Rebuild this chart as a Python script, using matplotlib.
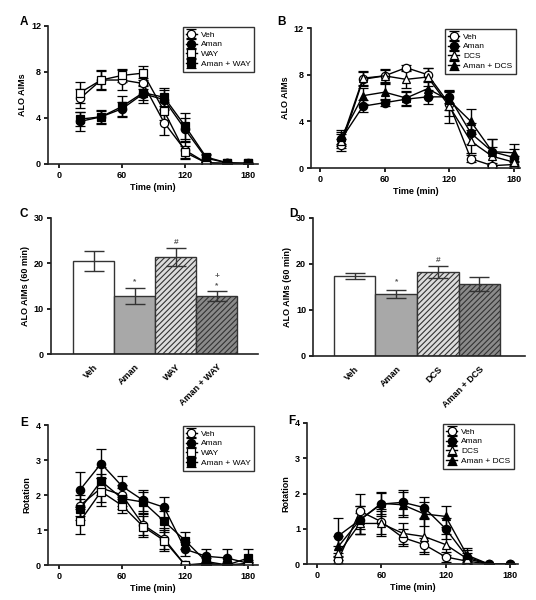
import numpy as np
import matplotlib
matplotlib.use('Agg')
import matplotlib.pyplot as plt

plt.rcParams['font.family'] = ['Liberation Sans', 'DejaVu Sans']
plt.rcParams['font.weight'] = 'bold'
plt.rcParams['hatch.linewidth'] = 0.8

# time course data
t = [20, 40, 60, 80, 100, 120, 140, 160, 180]

# panel A  (ALO AIMs, WAY study)
a_veh = [5.7, 7.3, 7.3, 7.0, 3.6, 1.2, 0.1, 0.05, 0.0]
a_veh_err = [0.8, 0.8, 0.9, 0.5, 1.1, 0.7, 0.1, 0.05, 0.05]
a_aman = [3.7, 4.1, 4.8, 6.1, 5.6, 3.0, 0.5, 0.1, 0.05]
a_aman_err = [0.8, 0.6, 0.6, 0.8, 0.8, 1.0, 0.3, 0.1, 0.05]
a_way = [6.2, 7.3, 7.7, 7.9, 4.6, 1.0, 0.1, 0.05, 0.05]
a_way_err = [0.9, 0.9, 0.6, 0.6, 0.8, 0.6, 0.1, 0.05, 0.05]
a_amanway = [3.9, 4.1, 5.0, 6.2, 5.8, 3.3, 0.6, 0.1, 0.05]
a_amanway_err = [0.6, 0.5, 0.9, 0.6, 0.8, 1.1, 0.3, 0.1, 0.05]

# panel B  (ALO AIMs, DCS study)
b_veh = [2.0, 7.6, 7.9, 8.6, 8.0, 5.5, 0.8, 0.2, 0.3]
b_veh_err = [0.5, 0.6, 0.5, 0.2, 0.6, 1.0, 0.3, 0.2, 0.3]
b_aman = [2.5, 5.3, 5.6, 5.9, 6.1, 6.1, 3.0, 1.4, 0.9]
b_aman_err = [0.6, 0.5, 0.3, 0.6, 0.6, 0.5, 0.9, 1.1, 0.7]
b_dcs = [2.3, 7.7, 7.9, 7.6, 7.8, 5.3, 2.3, 1.0, 0.5]
b_dcs_err = [0.6, 0.6, 0.6, 0.7, 0.8, 1.4, 1.0, 0.8, 0.5]
b_amandcs = [2.7, 6.2, 6.5, 6.0, 6.8, 5.8, 4.0, 1.4, 1.3]
b_amandcs_err = [0.6, 0.7, 0.7, 0.6, 0.7, 0.8, 1.1, 1.1, 0.8]

# panel C  (ALO AIMs at 60 min, WAY study)
c_groups = ['Veh', 'Aman', 'WAY', 'Aman + WAY']
c_vals = [20.5, 12.8, 21.4, 12.8]
c_err = [2.2, 1.8, 1.9, 1.1]

# panel D  (ALO AIMs at 60 min, DCS study)
d_groups = ['Veh', 'Aman', 'DCS', 'Aman + DCS']
d_vals = [17.4, 13.5, 18.2, 15.6]
d_err = [0.7, 0.8, 1.3, 1.5]

# panel E  (rotation, WAY study)
e_veh = [1.7, 2.2, 2.0, 1.15, 0.75, 0.0, 0.05, 0.0, 0.05]
e_veh_err = [0.3, 0.4, 0.3, 0.3, 0.3, 0.05, 0.05, 0.05, 0.05]
e_aman = [2.15, 2.9, 2.25, 1.85, 1.65, 0.45, 0.25, 0.2, 0.05]
e_aman_err = [0.5, 0.42, 0.3, 0.3, 0.3, 0.2, 0.2, 0.25, 0.1]
e_way = [1.25, 2.1, 1.7, 1.1, 0.7, 0.0, 0.0, 0.0, 0.0]
e_way_err = [0.35, 0.4, 0.2, 0.3, 0.3, 0.0, 0.0, 0.0, 0.0]
e_amanway = [1.6, 2.4, 1.9, 1.8, 1.25, 0.7, 0.1, 0.0, 0.2]
e_amanway_err = [0.3, 0.4, 0.3, 0.3, 0.3, 0.25, 0.1, 0.05, 0.25]

# panel F  (rotation, DCS study)
f_veh = [0.12, 1.5, 1.2, 0.75, 0.55, 0.2, 0.08, 0.0, 0.0]
f_veh_err = [0.1, 0.5, 0.35, 0.25, 0.2, 0.15, 0.05, 0.0, 0.0]
f_aman = [0.8, 1.25, 1.7, 1.75, 1.6, 1.0, 0.2, 0.0, 0.0]
f_aman_err = [0.5, 0.4, 0.35, 0.35, 0.3, 0.3, 0.2, 0.0, 0.0]
f_dcs = [0.3, 1.15, 1.15, 0.87, 0.78, 0.55, 0.15, 0.0, 0.0]
f_dcs_err = [0.2, 0.3, 0.35, 0.3, 0.5, 0.3, 0.15, 0.0, 0.0]
f_amandcs = [0.5, 1.25, 1.72, 1.68, 1.42, 1.35, 0.25, 0.0, 0.0]
f_amandcs_err = [0.3, 0.4, 0.3, 0.35, 0.35, 0.3, 0.2, 0.0, 0.0]

fig = plt.figure(figsize=(5.36, 6.0), dpi=100)

FS = 6.5


def style_ax(ax):
    for s in ['top', 'right']:
        ax.spines[s].set_visible(False)
    for s in ['left', 'bottom']:
        ax.spines[s].set_linewidth(1.2)
        ax.spines[s].set_color('#222222')
    ax.tick_params(direction='out', width=1.2, length=3, labelsize=FS, pad=2)
    for lab in ax.get_xticklabels() + ax.get_yticklabels():
        lab.set_fontweight('bold')


def time_panel(ax, series, labels, markers, fills, ymax, yticks, ylabel, xlim):
    for y, e, lab, m, f in zip(*series, labels, markers, fills):
        ax.errorbar(t, y, yerr=e, color='black', lw=1.0, marker=m, ms=6,
                    mfc='black' if f else 'white', mec='black', mew=0.9,
                    capsize=3.5, elinewidth=1.0, capthick=1.0, label=lab)
    ax.set_xlim(*xlim)
    ax.set_ylim(0, ymax)
    ax.set_xticks([0, 60, 120, 180])
    ax.set_yticks(yticks)
    ax.set_ylabel(ylabel, fontsize=FS, fontweight='bold', labelpad=3)
    ax.set_xlabel('Time (min)', fontsize=FS, fontweight='bold', labelpad=2)
    leg = ax.legend(loc='upper right', fontsize=FS - 0.5, frameon=True, fancybox=False,
                    edgecolor='black', handlelength=1.3, handletextpad=0.5,
                    borderpad=0.4, labelspacing=0.25, bbox_to_anchor=(1.0, 1.02))
    leg.get_frame().set_linewidth(1.0)
    for txt in leg.get_texts():
        txt.set_fontweight('normal')
    style_ax(ax)


def bar_panel(ax, groups, vals, errs, ylabel, xlim):
    x = np.arange(len(groups))
    faces = ['white', '#a8a8a8', '#dcdcdc', '#8a8a8a']
    hatches = [None, None, '//////', '//////']
    for i in range(len(groups)):
        ax.bar(x[i], vals[i], width=1.0, color=faces[i], edgecolor='#333333',
               linewidth=1.0, hatch=hatches[i], zorder=2)
        ax.errorbar(x[i], vals[i], yerr=errs[i], color='#333333', capsize=7,
                    elinewidth=1.0, capthick=1.0, zorder=3)
    ax.set_xlim(*xlim)
    ax.set_ylim(0, 30)
    ax.set_yticks([0, 10, 20, 30])
    ax.set_xticks(x)
    ax.set_xticklabels(groups, rotation=45, ha='right', rotation_mode='anchor', fontsize=FS)
    ax.set_ylabel(ylabel, fontsize=FS, fontweight='bold', labelpad=3)
    style_ax(ax)
    ax.tick_params(axis='x', length=0, pad=6)


axA = fig.add_axes([0.0896, 0.7267, 0.392, 0.23])
time_panel(axA, [[a_veh, a_aman, a_way, a_amanway],
                 [a_veh_err, a_aman_err, a_way_err, a_amanway_err]],
           ['Veh', 'Aman', 'WAY', 'Aman + WAY'], ['o', 'o', 's', 's'],
           [False, True, False, True], 12, [0, 4, 8, 12], 'ALO AIMs', (-10.5, 189.5))

axB = fig.add_axes([0.580, 0.72, 0.390, 0.2333])
time_panel(axB, [[b_veh, b_aman, b_dcs, b_amandcs],
                 [b_veh_err, b_aman_err, b_dcs_err, b_amandcs_err]],
           ['Veh', 'Aman', 'DCS', 'Aman + DCS'], ['o', 'o', '^', '^'],
           [False, True, False, True], 12, [0, 4, 8, 12], 'ALO AIMs', (-8.4, 185.6))

axC = fig.add_axes([0.0951, 0.41, 0.386, 0.2267])
bar_panel(axC, c_groups, c_vals, c_err, 'ALO AIMs (60 min)', (-1.04, 4.0))
for xi, yi, s in [(1, 16.0, '*'), (2, 24.6, '#'), (3, 15.0, '*'), (3, 17.0, '+')]:
    axC.text(xi, yi, s, ha='center', va='center', fontsize=6, color='#555555')

axD = fig.add_axes([0.584, 0.4067, 0.3955, 0.23])
bar_panel(axD, d_groups, d_vals, d_err, 'ALO AIMs (60 min)', (-1.0, 4.1))
for xi, yi, s in [(1, 16.2, '*'), (2, 20.7, '#')]:
    axD.text(xi, yi, s, ha='center', va='center', fontsize=6, color='#555555')

axE = fig.add_axes([0.0896, 0.0583, 0.392, 0.2333])
time_panel(axE, [[e_veh, e_aman, e_way, e_amanway],
                 [e_veh_err, e_aman_err, e_way_err, e_amanway_err]],
           ['Veh', 'Aman', 'WAY', 'Aman + WAY'], ['o', 'o', 's', 's'],
           [False, True, False, True], 4, [0, 1, 2, 3, 4], 'Rotation', (-10.5, 189.5))

axF = fig.add_axes([0.5728, 0.06, 0.3937, 0.235])
time_panel(axF, [[f_veh, f_aman, f_dcs, f_amandcs],
                 [f_veh_err, f_aman_err, f_dcs_err, f_amandcs_err]],
           ['Veh', 'Aman', 'DCS', 'Aman + DCS'], ['o', 'o', '^', '^'],
           [False, True, False, True], 4, [0, 1, 2, 3, 4], 'Rotation', (-9.3, 187.5))

# panel letters
for lab, (px, py) in zip('ABCDEF', [(20, 22), (277, 22), (20, 214), (289, 214), (20, 423), (288, 421)]):
    fig.text(px / 536, 1 - py / 600, lab, fontsize=8.5, fontweight='bold', ha='left', va='center')

fig.savefig('out.png', dpi=100)
